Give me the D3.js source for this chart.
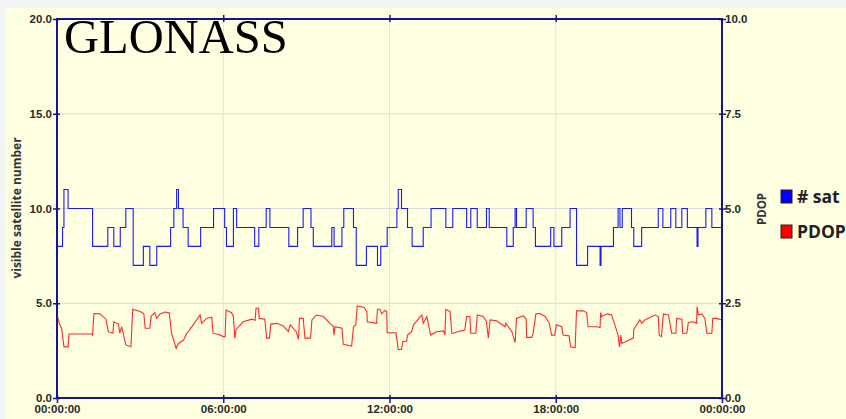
<!DOCTYPE html>
<html>
<head>
<meta charset="utf-8">
<script src="https://cdn.jsdelivr.net/npm/d3@7"></script>
<style>
  html, body { margin: 0; padding: 0; background: #eef0f0; }
  svg { display: block; }
  .tick text { font-family: "Liberation Sans", Arial, sans-serif; font-weight: bold; font-size: 11.5px; fill: #2a2a2a; }
  .axis path { display: none; }
</style>
</head>
<body>
<div id="chart"></div>
<script>
// Visible satellites (step changes), minutes after midnight
const satMinutes = [0, 12, 15, 24, 77, 110, 123, 137, 149, 165, 187, 201, 216, 246, 253, 259, 263, 273, 284, 311,
  339, 363, 367, 382, 389, 428, 437, 453, 461, 502, 521, 533, 550, 555, 595, 600, 617, 621, 642, 648,
  670, 694, 701, 715, 736, 739, 746, 759, 769, 793, 810, 842, 857, 887, 896, 910, 930, 936, 974, 988,
  992, 995, 1016, 1031, 1036, 1069, 1076, 1093, 1111, 1125, 1149, 1176, 1178, 1205, 1215, 1219, 1224, 1244, 1249, 1266,
  1302, 1312, 1329, 1340, 1353, 1365, 1386, 1388, 1405, 1418, 1440];
const satCount = [8, 9, 11, 10, 8, 9, 8, 9, 10, 7, 8, 7, 8, 9, 10, 11, 10, 9, 8, 9,
  10, 9, 8, 10, 9, 8, 9, 10, 9, 8, 9, 10, 9, 8, 9, 8, 9, 10, 9, 7,
  8, 7, 8, 9, 10, 11, 10, 9, 8, 9, 10, 9, 10, 9, 10, 9, 10, 9, 8, 9,
  10, 9, 10, 9, 8, 9, 8, 9, 10, 7, 8, 7, 8, 9, 10, 9, 10, 9, 8, 9,
  10, 9, 10, 9, 10, 9, 8, 9, 10, 9, 9];

// PDOP samples, minutes after midnight
const pdopMinutes = [0, 6, 10, 15, 24, 26, 75, 77, 80, 93, 106, 111, 121, 123, 133, 136, 140, 149, 160, 164,
  180, 188, 191, 201, 204, 212, 216, 223, 234, 243, 248, 258, 263, 274, 281, 288, 310, 313, 324, 335,
  338, 353, 360, 364, 366, 378, 382, 385, 388, 403, 422, 429, 431, 436, 438, 450, 454, 460, 463, 476,
  490, 501, 505, 518, 523, 525, 533, 537, 549, 552, 562, 577, 591, 598, 600, 602, 617, 620, 638, 642,
  647, 650, 665, 671, 672, 692, 694, 699, 703, 710, 714, 715, 734, 739, 746, 749, 757, 759, 768, 772,
  790, 793, 801, 809, 822, 837, 840, 842, 851, 855, 858, 867, 883, 887, 894, 896, 907, 910, 923, 930,
  934, 938, 952, 970, 972, 985, 992, 995, 1010, 1016, 1017, 1028, 1031, 1037, 1046, 1057, 1066, 1071, 1078, 1081,
  1093, 1096, 1109, 1112, 1122, 1125, 1140, 1147, 1150, 1169, 1176, 1177, 1179, 1192, 1201, 1208, 1215, 1218, 1221, 1223,
  1248, 1249, 1262, 1266, 1273, 1295, 1302, 1304, 1309, 1313, 1324, 1331, 1340, 1342, 1353, 1355, 1364, 1367, 1378, 1385,
  1386, 1389, 1396, 1403, 1407, 1418, 1420, 1428, 1440];
const pdopValues = [2.19, 1.93, 1.84, 1.35, 1.35, 1.69, 1.69, 1.66, 2.23, 2.22, 2.08, 1.75, 1.71, 2.01, 1.95, 1.71, 1.88, 1.40, 1.35, 2.34,
  2.28, 2.23, 1.84, 1.84, 2.16, 2.25, 2.10, 2.22, 2.27, 2.25, 1.71, 1.31, 1.44, 1.53, 1.71, 1.81, 2.19, 1.97, 2.10, 2.13,
  1.71, 1.66, 1.62, 1.62, 2.32, 2.25, 2.15, 1.58, 1.81, 2.01, 2.08, 2.05, 2.37, 2.37, 2.10, 2.08, 1.58, 1.58, 1.95, 1.97,
  1.90, 1.75, 1.93, 1.75, 1.55, 2.10, 2.10, 1.58, 1.58, 2.06, 2.19, 2.15, 1.97, 1.90, 1.66, 1.88, 1.84, 1.42, 1.37, 1.88,
  1.93, 2.43, 2.39, 2.28, 2.01, 1.97, 2.34, 2.34, 2.22, 2.31, 2.28, 1.72, 1.72, 1.28, 1.28, 1.49, 1.50, 1.66, 1.75, 1.93,
  2.19, 1.97, 2.15, 1.66, 1.75, 1.77, 1.66, 2.34, 2.28, 1.71, 1.71, 1.75, 1.79, 2.15, 2.15, 1.71, 1.71, 2.19, 2.15, 2.01,
  1.58, 2.06, 2.04, 1.88, 1.97, 1.75, 1.46, 2.10, 2.17, 2.08, 1.60, 1.60, 1.71, 2.22, 2.23, 2.15, 1.97, 1.66, 1.66, 1.93,
  1.88, 1.66, 1.64, 1.35, 1.33, 2.30, 2.30, 2.25, 1.88, 1.88, 1.86, 2.25, 2.15, 2.22, 2.19, 1.93, 1.66, 1.35, 1.66, 1.44,
  1.58, 1.81, 2.06, 1.97, 2.06, 2.19, 2.15, 1.66, 1.62, 2.22, 2.19, 1.71, 1.71, 2.10, 2.08, 1.71, 1.71, 1.99, 2.01, 1.97,
  2.41, 2.19, 2.22, 2.10, 1.71, 1.71, 2.10, 2.10, 2.06];

const leftTicks = [0, 5, 10, 15, 20];
const rightTicks = [0, 2.5, 5, 7.5, 10];
const timeTickHours = [0, 6, 12, 18, 24];
const legendItems = [
  { label: '# sat', color: '#0000ff' },
  { label: 'PDOP', color: '#ff0000' }
];

const W = 846, H = 419;
const margin = { top: 19, right: 124, bottom: 21, left: 57 };
const width = W - margin.left - margin.right,
      height = H - margin.top - margin.bottom;
const AXIS = '#15158f';

const svg = d3.select('#chart').append('svg')
  .attr('width', W)
  .attr('height', H);

// fondo
svg.append('rect').attr('width', W).attr('height', H).attr('fill', '#f3f5f5');
svg.append('rect').attr('x', 5).attr('y', 8).attr('width', W - 5).attr('height', H - 8).attr('fill', '#fefee1');

const g = svg.append('g').attr('transform', 'translate(' + margin.left + ',' + margin.top + ')');

const t0 = Date.UTC(2020, 0, 1);
const toDate = m => new Date(t0 + m * 60000);

const x = d3.scaleUtc()
  .domain([toDate(0), toDate(1440)])
  .range([0, width]);
const yL = d3.scaleLinear().domain([0, 20]).range([height, 0]);
const yR = d3.scaleLinear().domain([0, 10]).range([height, 0]);
const timeTicks = timeTickHours.map(h => toDate(h * 60));

// rejilla
g.append('g').selectAll('line').data(leftTicks.slice(1, -1)).enter().append('line')
  .attr('x1', 0).attr('x2', width)
  .attr('y1', d => yL(d)).attr('y2', d => yL(d))
  .attr('stroke', '#dcdcdc').attr('stroke-width', 1);
g.append('g').selectAll('line').data(timeTicks.slice(1, -1)).enter().append('line')
  .attr('x1', d => x(d)).attr('x2', d => x(d))
  .attr('y1', 0).attr('y2', height)
  .attr('stroke', '#e2e2e2').attr('stroke-width', 1);

// series
const satData = satMinutes.map((m, i) => ({ t: toDate(m), v: satCount[i] }));
const pdopData = pdopMinutes.map((m, i) => ({ t: toDate(m), v: pdopValues[i] }));

g.append('path').datum(satData)
  .attr('fill', 'none').attr('stroke', '#1a1aff').attr('stroke-width', 1.1)
  .attr('d', d3.line().curve(d3.curveStepAfter).x(d => x(d.t)).y(d => yL(d.v)));

g.append('path').datum(pdopData)
  .attr('fill', 'none').attr('stroke', '#ff2a2a').attr('stroke-width', 1.1)
  .attr('d', d3.line().x(d => x(d.t)).y(d => yR(d.v)));

// ejes
const fmt1 = d3.format('.1f');

const axL = g.append('g').attr('class', 'axis')
  .call(d3.axisLeft(yL).tickValues(leftTicks).tickFormat(fmt1).tickSize(4).tickPadding(1));
axL.selectAll('.tick line').attr('x2', -4).attr('x1', 3).attr('stroke', AXIS).attr('stroke-width', 1.5);

const axR = g.append('g').attr('class', 'axis').attr('transform', 'translate(' + width + ',0)')
  .call(d3.axisRight(yR).tickValues(rightTicks).tickFormat(fmt1).tickSize(3).tickPadding(0));
axR.selectAll('.tick line').attr('x1', -3).attr('x2', 4).attr('stroke', AXIS).attr('stroke-width', 1.5);

const axB = g.append('g').attr('class', 'axis').attr('transform', 'translate(0,' + height + ')')
  .call(d3.axisBottom(x).tickValues(timeTicks).tickFormat(d3.utcFormat('%H:%M:%S')).tickSize(4).tickPadding(3));
axB.selectAll('.tick line').attr('y1', -3).attr('y2', 5).attr('stroke', AXIS).attr('stroke-width', 1.5);

const axT = g.append('g').attr('class', 'axis')
  .call(d3.axisTop(x).tickValues(timeTicks.slice(1, -1)).tickFormat('').tickSize(4));
axT.selectAll('.tick line').attr('y1', 3).attr('y2', -4).attr('stroke', AXIS).attr('stroke-width', 1.5);

// marco
g.append('rect').attr('width', width).attr('height', height)
  .attr('fill', 'none').attr('stroke', AXIS).attr('stroke-width', 2);

// titulos de ejes
svg.append('text')
  .attr('transform', 'translate(21,208) rotate(-90)')
  .attr('text-anchor', 'middle')
  .style('font-family', '"Open Sans", sans-serif').style('font-weight', 'bold').style('font-size', '12px')
  .attr('fill', '#333')
  .text('visible satellite number');

svg.append('text')
  .attr('transform', 'translate(766,209) rotate(-90)')
  .attr('text-anchor', 'middle')
  .style('font-family', '"Open Sans", sans-serif').style('font-weight', 'bold').style('font-size', '11.5px')
  .attr('fill', '#333')
  .text('PDOP');

// titulo
svg.append('text')
  .attr('x', 64).attr('y', 53)
  .style('font-family', '"Liberation Serif", "Times New Roman", serif').style('font-size', '48.5px')
  .attr('fill', '#000')
  .text('GLONASS');

// leyenda
const legend = svg.append('g').attr('transform', 'translate(781,190)');
const li = legend.selectAll('g').data(legendItems).enter().append('g')
  .attr('transform', (d, i) => 'translate(0,' + (i * 35) + ')');
li.append('rect').attr('width', 11).attr('height', 13)
  .attr('fill', d => d.color).attr('stroke', '#222').attr('stroke-width', 1);
li.append('text').attr('x', 16).attr('y', 13)
  .style('font-family', '"Open Sans", sans-serif').style('font-weight', 700).style('font-size', '17.5px')
  .attr('fill', '#222')
  .text(d => d.label);
</script>
</body>
</html>
